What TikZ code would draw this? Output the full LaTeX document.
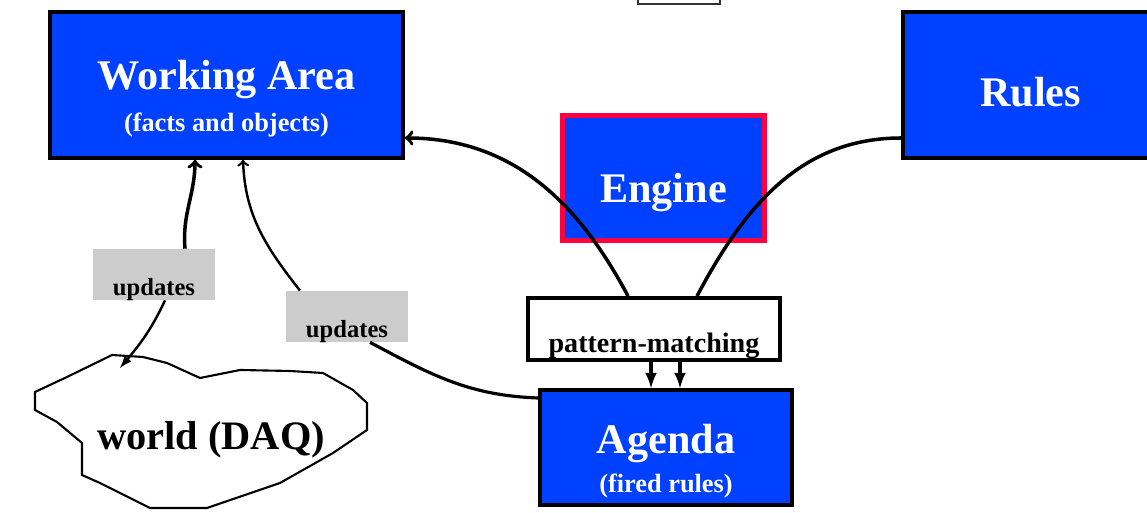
\documentclass[tikz,border=0pt]{standalone}
\usepackage{fontspec}
\setmainfont{Liberation Serif}
\usetikzlibrary{positioning,shapes,arrows}

\definecolor{boxblue}{HTML}{0040FF}
\definecolor{engred}{HTML}{FF0040}
\definecolor{labgray}{HTML}{CCCCCC}

% lower a text inside its box without changing the box
\newcommand{\lowered}[2]{\raisebox{-#1}[0pt][0pt]{\begin{tabular}{@{}c@{}}#2\end{tabular}}}

\begin{document}
\begin{tikzpicture}[
    block/.style={draw, line width=2pt, fill=boxblue, text=white, font=\bfseries\fontsize{24}{26}\selectfont, inner sep=0pt, align=center},
    matcher/.style={draw, line width=2.2pt, fill=white, inner sep=0pt, font=\bfseries\fontsize{16}{18}\selectfont},
    tag/.style={fill=labgray, inner sep=0pt, minimum width=2.44cm, minimum height=1.02cm, font=\bfseries\fontsize{14}{16}\selectfont},
    conn/.style={line width=2pt, -latex},
    thin conn/.style={line width=1.4pt, -latex}
]
\useasboundingbox (0,0) rectangle (22.94,10.26);

% small box cut at the top
\draw[line width=0.8pt, draw=black!80] (12.76,10.6) rectangle (14.4,10.18);

% Blocks
\node[block, minimum width=7.06cm, minimum height=2.92cm] (wa) at (4.53,8.56)
    {\lowered{0.54cm}{Working Area\\[-2pt]{\fontsize{15}{17}\selectfont (facts and objects)}}};
\node[block, minimum width=5.1cm, minimum height=2.92cm] (rules) at (20.61,8.56) {\lowered{0.46cm}{Rules}};
\node[block, draw=engred, line width=2.8pt, minimum width=4.04cm, minimum height=2.5cm] (engine) at (13.27,6.7) {\lowered{0.52cm}{Engine}};
\node[matcher, minimum width=5.04cm, minimum height=1.24cm] (pm) at (13.08,3.68) {\lowered{0.5cm}{pattern-matching}};
\node[block, minimum width=5.04cm, minimum height=2.3cm] (ag) at (13.32,1.31)
    {\lowered{0.54cm}{Agenda\\[-4pt]{\fontsize{15}{17}\selectfont (fired rules)}}};

% Labels on the update links
\node[tag] (up1) at (3.08,4.77) {\lowered{0.44cm}{updates}};
\node[tag] (up2) at (6.94,3.93) {\lowered{0.44cm}{updates}};

% World cloud
\draw[line width=1.2pt] (0.70,2.42) -- (0.70,2.06) -- (1.14,1.82) -- (1.64,1.40) -- (1.64,0.76)
    -- (2.00,0.60) -- (3.00,0.10) -- (4.14,0.10) -- (5.60,0.60) -- (6.66,1.20) -- (7.34,1.66)
    -- (7.34,2.20) -- (7.06,2.46) -- (6.46,2.80) -- (5.80,2.84) -- (4.80,2.86) -- (4.00,2.70)
    -- (3.34,3.00) -- (2.86,3.12) -- (2.24,3.16) -- (1.34,2.72) -- cycle;
\node[font=\bfseries\fontsize{23}{25}\selectfont] (world) at (4.22,1.46) {world (DAQ)};
\coordinate (wtop) at (2.4,2.9);

% Connectors
\draw[conn, <-] ([yshift=-1.06cm]wa.east) to[out=0, in=118] ([xshift=-0.52cm]pm.north);
\draw[conn, -] ([yshift=-1.06cm]rules.west) to[out=180, in=62] ([xshift=0.86cm]pm.north);
\draw[conn] ([xshift=-0.06cm]pm.south) -- ([xshift=-0.06cm]pm.south |- ag.north);
\draw[conn] ([xshift=0.52cm]pm.south) -- ([xshift=0.52cm]pm.south |- ag.north);

\draw[conn, <-] ([xshift=-0.63cm]wa.south) to[out=-90, in=95] ([xshift=0.62cm]up1.north);
\draw[thin conn] ([xshift=0.22cm]up1.south) to[out=-115, in=50] (wtop);
\draw[thin conn, <-] ([xshift=0.33cm]wa.south) to[out=-88, in=128] ([xshift=-0.94cm]up2.north);
\draw[line width=1.8pt] ([xshift=0.46cm]up2.south) to[out=-28, in=178] ([yshift=0.99cm]ag.west);

\end{tikzpicture}
\end{document}
